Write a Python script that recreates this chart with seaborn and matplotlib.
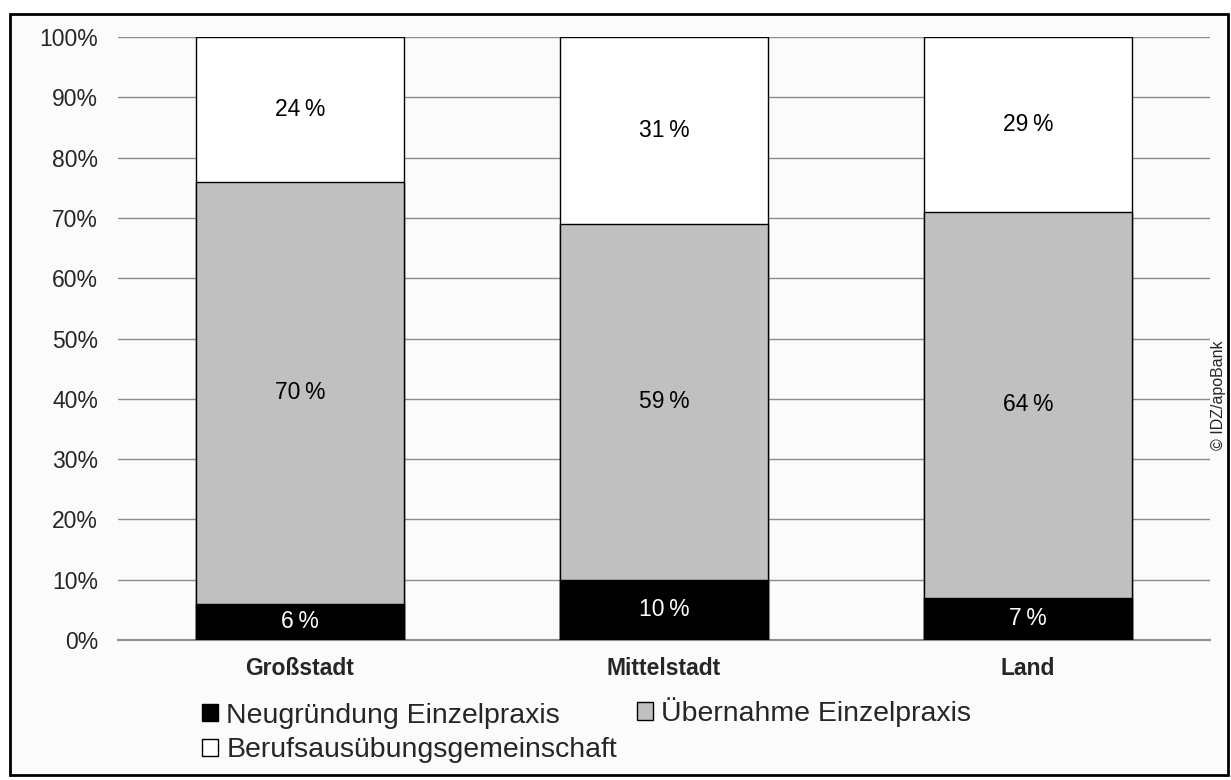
import matplotlib
matplotlib.use("Agg")
import matplotlib.pyplot as plt
import seaborn as sns
import pandas as pd
from matplotlib.patches import Rectangle, Patch

categories = ["Großstadt", "Mittelstadt", "Land"]
neugruendung = [6, 10, 7]
uebernahme = [70, 59, 64]
bag = [24, 31, 29]
series_names = ["Neugründung Einzelpraxis", "Übernahme Einzelpraxis", "Berufsausübungsgemeinschaft"]
series_colors = ["black", "#c0c0c0", "white"]
yticks = [0, 10, 20, 30, 40, 50, 60, 70, 80, 90, 100]

sns.set_theme(style="white")
plt.rcParams['font.family'] = ['Liberation Sans', 'DejaVu Sans']

W, H = 1231, 780
fig = plt.figure(figsize=(W / 100, H / 100), dpi=100)
fig.patch.set_facecolor("white")
fig.add_artist(Rectangle((10 / W, 5 / H), 1218 / W, 761 / H, transform=fig.transFigure,
                         facecolor="#fbfbfb", edgecolor="black", linewidth=2, zorder=0))

ax = fig.add_axes([118 / W, 140 / H, 1092 / W, 603 / H])
ax.set_facecolor("none")

tot = [a + b + c for a, b, c in zip(neugruendung, uebernahme, bag)]
low2 = [a + b for a, b in zip(neugruendung, uebernahme)]
df = pd.DataFrame({"cat": categories, "tot": tot, "low2": low2, "neu": neugruendung})

w = 0.574
sns.barplot(data=df, x="cat", y="tot", color=series_colors[2], edgecolor="black", linewidth=1,
            width=w, ax=ax, zorder=3, saturation=1)
sns.barplot(data=df, x="cat", y="low2", color=series_colors[1], edgecolor="black", linewidth=1,
            width=w, ax=ax, zorder=3, saturation=1)
sns.barplot(data=df, x="cat", y="neu", color=series_colors[0], edgecolor="black", linewidth=1,
            width=w, ax=ax, zorder=3, saturation=1)

fs = 16.5
for i in range(len(categories)):
    n, u, b = neugruendung[i], uebernahme[i], bag[i]
    ax.text(i, n / 2, f"{n}\u2009%", ha="center", va="center", color="white", fontsize=fs, zorder=5)
    ax.text(i, n + u / 2, f"{u}\u2009%", ha="center", va="center", color="black", fontsize=fs, zorder=5)
    ax.text(i, n + u + b / 2, f"{b}\u2009%", ha="center", va="center", color="black", fontsize=fs, zorder=5)

ax.set_xlim(-0.5, 2.5)
ax.set_ylim(0, 100)
ax.set_yticks(yticks)
ax.set_yticklabels([f"{t}%" for t in yticks], fontsize=fs)
ax.yaxis.grid(True, color="#8c8c8c", linewidth=1)
ax.set_axisbelow(True)
ax.tick_params(axis="y", length=0, pad=14.4)
ax.tick_params(axis="x", length=0, pad=12)
for lab in ax.get_xticklabels():
    lab.set_fontweight("bold")
    lab.set_fontsize(fs)
ax.set_xlabel("")
ax.set_ylabel("")
for s in ["top", "right", "left"]:
    ax.spines[s].set_visible(False)
ax.spines["bottom"].set_color("#8c8c8c")
ax.spines["bottom"].set_linewidth(1.5)

lfs = 20.5
common = dict(loc="center left", frameon=False, fontsize=lfs, handlelength=0.56, handleheight=0.56,
              handletextpad=0.3, labelspacing=0.3, borderaxespad=0, borderpad=0)
leg1 = fig.legend([Patch(facecolor=series_colors[0], edgecolor="black"),
                   Patch(facecolor=series_colors[2], edgecolor="black")],
                  [series_names[0], series_names[2]],
                  bbox_to_anchor=(202 / W, 1 - 733 / H), **common)
leg2 = fig.legend([Patch(facecolor=series_colors[1], edgecolor="black")],
                  [series_names[1]],
                  bbox_to_anchor=(637 / W, 1 - 712 / H), **common)

fig.text(1218 / W, 1 - 395 / H, "© IDZ/apoBank", rotation=90, ha="center", va="center", fontsize=11.5)

fig.savefig("out.png", dpi=100)
